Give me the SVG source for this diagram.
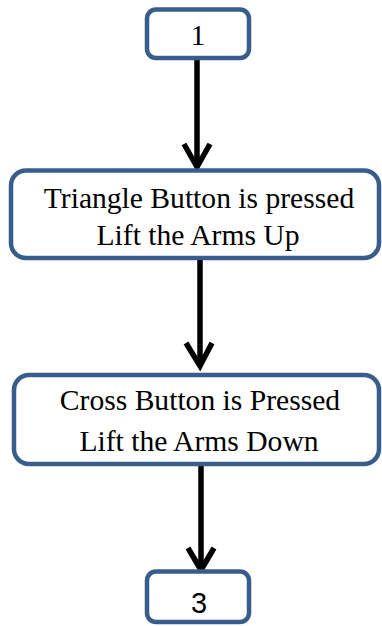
<svg xmlns="http://www.w3.org/2000/svg" width="382" height="626" viewBox="0 0 382 626">
<style>
.box{fill:#fff;stroke:#385D8A;stroke-width:4.5}
.t{font-family:"Liberation Serif","Times New Roman",serif;font-size:29.6px;fill:#000;text-anchor:middle}
.s{font-family:"Liberation Sans",Arial,sans-serif;font-size:29px;fill:#000;text-anchor:middle}
.ln{stroke:#000;stroke-width:5.5;fill:none}
.hd{stroke:#000;stroke-width:5.5;fill:none;stroke-linejoin:miter;stroke-miterlimit:10}
</style>
<rect width="382" height="626" fill="#fff"/>
<g id="connectors">
<line class="ln" x1="197" y1="58" x2="197" y2="166"/>
<path class="hd" d="M184,144 L197,167 L210,144"/>
<line class="ln" x1="200" y1="258" x2="200" y2="364"/>
<path class="hd" d="M186,343 L200,366 L212,343"/>
<line class="ln" x1="201" y1="464" x2="201" y2="568"/>
<path class="hd" d="M188,548 L201,570 L214,548"/>
</g>
<g id="n1">
<rect class="box" x="147" y="9.5" width="102" height="48.5" rx="9"/>
<text class="t" x="198" y="45">1</text>
</g>
<g id="n2">
<rect class="box" x="11" y="170.5" width="368" height="87.5" rx="15"/>
<text class="t" x="199" y="207.5">Triangle Button is pressed</text>
<text class="t" x="198" y="244.5">Lift the Arms Up</text>
</g>
<g id="n3">
<rect class="box" x="14" y="375" width="365" height="89" rx="15"/>
<text class="t" x="200" y="410">Cross Button is Pressed</text>
<text class="t" x="199" y="451">Lift the Arms Down</text>
</g>
<g id="n4">
<rect class="box" x="147" y="571.5" width="102" height="50.5" rx="9"/>
<text class="s" x="199" y="613">3</text>
</g>
</svg>
